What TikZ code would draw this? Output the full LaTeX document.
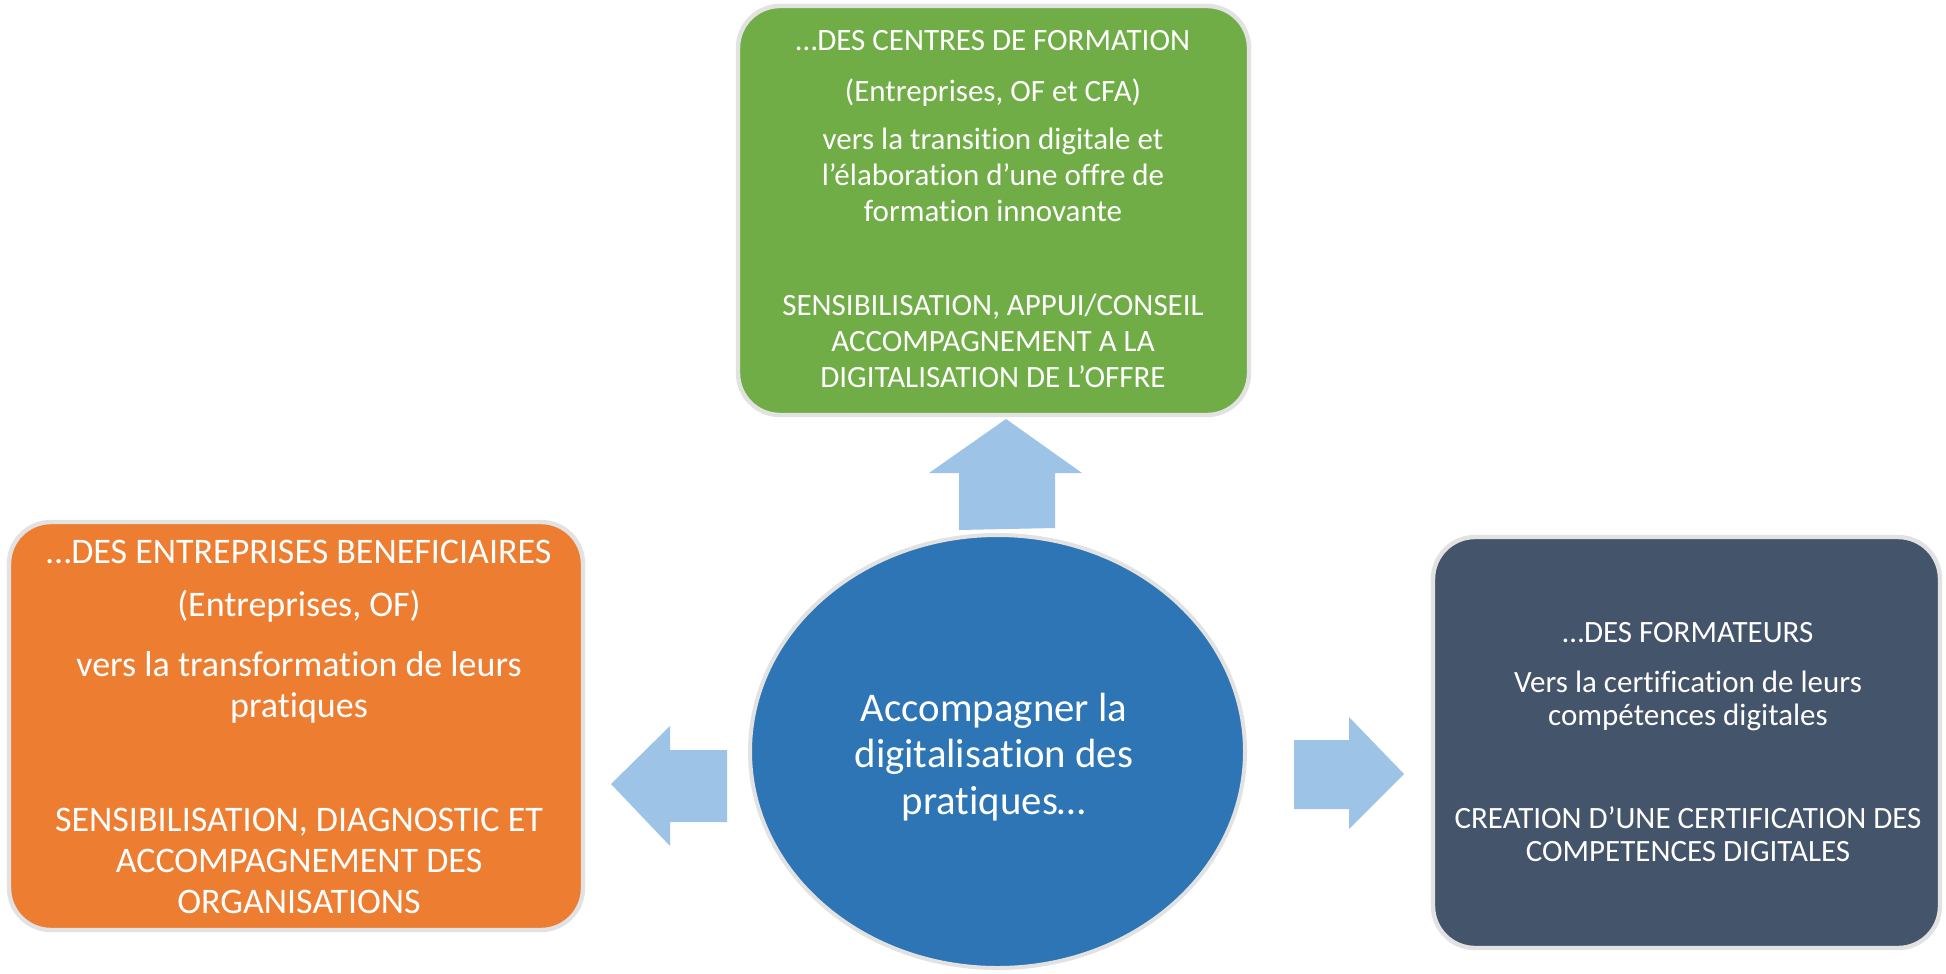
\documentclass[tikz,border=0pt]{standalone}
\usepackage{fontspec}
\setmainfont{Carlito}[Ligatures={NoCommon,NoContextual},Contextuals={NoAlternate}]
\usetikzlibrary{shapes.geometric}
\definecolor{cGreen}{HTML}{70AD47}
\definecolor{cOrange}{HTML}{ED7D31}
\definecolor{cSlate}{HTML}{44546A}
\definecolor{cBlue}{HTML}{2E75B6}
\definecolor{cArrow}{HTML}{9DC3E6}
\definecolor{cBorder}{HTML}{E2E2E2}
\begin{document}
\begin{tikzpicture}[x=0.5pt,y=-0.5pt,
  box/.style={draw=cBorder, line width=2.2pt, rounded corners=21pt, rectangle, inner sep=0pt},
  txt/.style={text=white, align=center, inner sep=0pt},
  blk/.style={fill=cArrow}]
\useasboundingbox (0,0) rectangle (1946,973);
% boxes
\node[box, fill=cGreen, minimum width=255.5pt, minimum height=204.5pt] (green) at (993.5,210.5) {};
\node[box, fill=cOrange, minimum width=287pt, minimum height=204pt] (orange) at (296,726) {};
\node[box, fill=cSlate, minimum width=253.5pt, minimum height=205.5pt] (slate) at (1686.5,742.5) {};
\node[ellipse, draw=cBorder, line width=2pt, fill=cBlue, minimum width=247.5pt, minimum height=216.5pt, inner sep=0pt] (circ) at (997.5,751.5) {};
% arrows
\fill[blk] (959,530) -- (959,473) -- (929,473) -- (1006,419) -- (1082,473) -- (1055,473) -- (1055,528) -- cycle;
\fill[blk] (727,750) -- (670,750) -- (670,726) -- (611,784) -- (670,846) -- (670,822) -- (727,822) -- cycle;
\fill[blk] (1294,740) -- (1349,740) -- (1349,717) -- (1404,774) -- (1349,829) -- (1349,809) -- (1294,809) -- cycle;
% green text
\begin{scope}[every node/.style={txt, font=\fontsize{15.5pt}{18pt}\selectfont}]
\node (gT) at (993,41) {…DES CENTRES DE FORMATION};
\node (gS) at (993,93) {(Entreprises, OF et CFA)};
\node (gV) at (993,175) {vers la transition digitale et\\l’élaboration d’une offre de\\formation innovante};
\node (gB) at (993,341) {SENSIBILISATION, APPUI/CONSEIL\\ACCOMPAGNEMENT A LA\\DIGITALISATION DE L’OFFRE};
\end{scope}
% orange text
\begin{scope}[every node/.style={txt, font=\fontsize{18pt}{20.5pt}\selectfont}]
\node (oT) at (299,552) {…DES ENTREPRISES BENEFICIAIRES};
\node (oS) at (299,606) {(Entreprises, OF)};
\node (oV) at (299,687) {vers la transformation de leurs\\pratiques};
\node (oB) at (299,861) {SENSIBILISATION, DIAGNOSTIC ET\\ACCOMPAGNEMENT DES\\ORGANISATIONS};
\end{scope}
% slate text
\begin{scope}[every node/.style={txt, font=\fontsize{15.5pt}{16.5pt}\selectfont}]
\node (dT) at (1688,633) {…DES FORMATEURS};
\node (dV) at (1688,701) {Vers la certification de leurs\\compétences digitales};
\node (dB) at (1688,834) {CREATION D’UNE CERTIFICATION DES\\COMPETENCES DIGITALES};
\end{scope}
% circle text
\node[txt, font=\fontsize{20.4pt}{23.3pt}\selectfont] (cT) at (994,757) {Accompagner la\\digitalisation des\\pratiques…};
\end{tikzpicture}
\end{document}
